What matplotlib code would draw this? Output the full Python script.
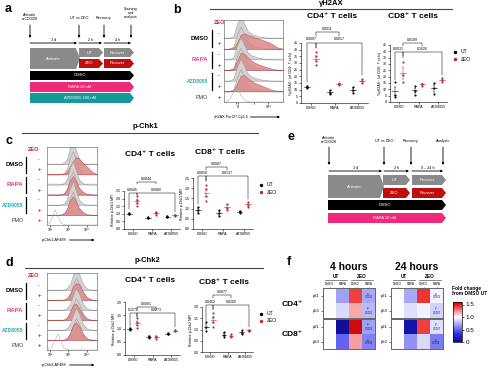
import numpy as np
import matplotlib
matplotlib.use('Agg')
import matplotlib.pyplot as plt
from matplotlib.patches import Polygon
from matplotlib.colors import LinearSegmentedColormap, Normalize

plt.rcParams['font.family'] = ['Liberation Sans', 'DejaVu Sans']

W, H = 490, 376

# ---------------- data ----------------
groups = ['DMSO', 'RAPA', 'AZD8055']

# dot plots: per group [DMSO, RAPA, AZD8055]
b_cd4_ut = [[13, 11, 12], [10, 7, 7.5], [12, 9.5, 7.5]]
b_cd4_zeo = [[38, 35, 31.5, 28.5], [15, 14, 13.5], [18, 16.5, 15]]
b_cd8_ut = [[15.9, 5.3, 4], [13, 9, 5.3], [15, 11, 6]]
b_cd8_zeo = [[31.7, 21, 15.9], [14.5, 14, 13], [19, 17.7, 16]]

c_cd4_ut = [[1.05, 1.0, 0.98], [0.8, 0.72, 0.7], [0.85, 0.8, 0.78]]
c_cd4_zeo = [[2.15, 1.9, 1.7, 1.5], [1.15, 1.05, 0.9], [0.95, 0.9, 0.85]]
c_cd8_ut = [[1.1, 0.95, 0.78], [0.92, 0.78, 0.65], [0.9, 0.85, 0.8]]
c_cd8_zeo = [[2.15, 1.98, 1.6, 1.35], [1.25, 1.05, 0.92], [1.32, 1.2, 1.1]]

d_cd4_ut = [[1.02, 0.98, 0.96], [0.72, 0.68, 0.65], [0.82, 0.78, 0.8]]
d_cd4_zeo = [[1.38, 1.25, 1.12, 1.02], [0.72, 0.68, 0.62], [0.95, 0.92, 0.9]]
d_cd8_ut = [[1.32, 1.1, 0.95], [0.9, 0.75, 0.68], [0.98, 0.85, 0.8]]
d_cd8_zeo = [[1.72, 1.55, 1.35, 1.12], [0.8, 0.7, 0.65], [1.0, 0.95, 0.92]]

# significance brackets: (x1, x2, y, left leg end, right leg end, p)
b_cd4_br = [(-0.2, 0.2, 45, 16, 41, '0.0007'), (0.2, 1.2, 53, 50, 50, '0.0011'),
            (0.2, 2.2, 45, 41, 21, '0.0017')]
b_cd8_br = [(-0.2, 0.2, 39.5, 17, 35, '0.0031'), (0.2, 1.2, 46.5, 44.5, 44.5, '0.0189'),
            (0.2, 2.2, 39.5, 36, 21, '0.1626')]
c_cd4_br = [(-0.2, 0.2, 2.37, 1.3, 2.25, '0.0045'), (0.2, 1.2, 3.09, 2.95, 2.95, '0.0044'),
            (0.2, 2.2, 2.37, 2.25, 1.1, '0.0060')]
c_cd8_br = [(-0.2, 0.2, 2.6, 1.25, 2.35, '0.0058'), (0.2, 1.2, 3.04, 2.9, 2.9, '0.0087'),
            (0.2, 2.2, 2.6, 2.35, 1.45, '0.0137')]
d_cd4_br = [(-0.2, 0.2, 1.58, 1.1, 1.45, '0.1572'), (0.2, 1.2, 1.81, 1.7, 1.7, '0.0081'),
            (0.2, 2.2, 1.58, 1.45, 1.05, '0.0273')]
d_cd8_br = [(-0.2, 0.2, 2.09, 1.4, 1.85, '0.0452'), (0.2, 1.2, 2.53, 2.4, 2.4, '0.0077'),
            (0.2, 2.2, 2.09, 1.9, 1.1, '0.0260')]

# histogram outlines (height in row units) read at these x fractions
hx = [0, .08, .16, .22, .28, .34, .40, .46, .52, .58, .64, .72, .80, .90, 1.0]
b_ut = [0, 0, .2, 1.3, 2.1, 1.4, .7, .4, .28, .17, .1, .04, .01, 0, 0]
b_zeo = [[0, 0, .07, .55, 1.3, 1.45, 1.3, 1.2, 1.05, .95, .85, .7, .5, .14, 0],
         [0, 0, .14, .85, 1.6, 1.55, 1.2, .9, .7, .55, .42, .28, .14, .03, 0],
         [0, 0, .11, .7, 1.45, 1.55, 1.25, 1.0, .8, .67, .53, .35, .17, .04, 0]]
b_fmo = [0, .14, .85, 1.4, .7, .2, .04, 0, 0, 0, 0, 0, 0, 0, 0]
c_ut = [0, 0, 0, 0, .03, .14, .55, 1.7, 2.3, 1.4, .5, .1, .01, 0, 0]
c_zeo = [[0, 0, 0, 0, .02, .07, .28, .75, 1.3, 1.7, 1.6, 1.1, .75, .28, 0],
         [0, 0, 0, 0, .03, .14, .55, 1.4, 1.85, 1.4, .7, .28, .07, 0, 0],
         [0, 0, 0, 0, .03, .17, .6, 1.45, 1.85, 1.3, .7, .28, .07, 0, 0]]
c_fmo = [0, .4, 1.5, .85, .2, .04, 0, 0, 0, 0, 0, 0, 0, 0, 0]
d_ut = [0, 0, 0, 0, 0, .04, .2, .6, 1.5, 2.2, 1.65, .6, .14, .01, 0]
d_zeo = [[0, 0, 0, 0, 0, .04, .2, .6, 1.3, 1.7, 1.6, .85, .28, .04, 0],
         [0, 0, 0, 0, 0, .05, .28, .85, 1.5, 1.65, 1.2, .5, .1, 0, 0],
         [0, 0, 0, 0, 0, .04, .2, .7, 1.45, 1.8, 1.4, .6, .14, .01, 0]]
d_fmo = [0, .2, .95, 1.6, .85, .2, .03, 0, 0, 0, 0, 0, 0, 0, 0]

# heatmaps (fold change from DMSO UT), rows p21/p53, cols UT DMSO/RAPA, ZEO DMSO/RAPA
f_cols = ['DMSO', 'RAPA', 'DMSO', 'RAPA']
f_rows = ['p21', 'p53']
f4_cd4 = [[1.0, 0.7, 1.4, 0.72], [1.0, 0.88, 1.18, 0.78]]
f4_cd8 = [[1.0, 0.06, 1.55, 0.7], [1.0, 0.5, 1.2, 0.6]]
f24_cd4 = [[1.0, 0.72, 1.42, 0.96], [1.0, 0.9, 0.96, 0.85]]
f24_cd8 = [[1.0, 0.1, 1.4, 0.9], [1.0, 0.65, 0.88, 0.58]]
f4_p = [['0.0002', '0.0001'], ['0.0003', '0.0001']]
f24_p = [['0.0001', '0.0007'], ['0.0007', '0.0004']]

RED = '#c0282d'
PINK = '#e0408a'
TEAL = '#2aaab5'

fig = plt.figure(figsize=(W / 100, H / 100), dpi=100)
ov = fig.add_axes([0, 0, 1, 1])
ov.set_xlim(0, W)
ov.set_ylim(H, 0)
ov.axis('off')


def px_axes(x, y, w, h):
    a = fig.add_axes([x / W, 1 - (y + h) / H, w / W, h / H])
    a.patch.set_alpha(0)
    return a


def chevron(x0, x1, y0, y1, color, label, tip=4, fs=3.0):
    pts = [(x0, y0), (x1 - tip, y0), (x1, (y0 + y1) / 2), (x1 - tip, y1), (x0, y1)]
    ov.add_patch(Polygon(pts, closed=True, fc=color, ec='none'))
    ov.text((x0 + x1 - tip) / 2, (y0 + y1) / 2, label, color='white', fontsize=fs,
            ha='center', va='center')


def arrow(x0, y0, x1, y1):
    ov.annotate('', xy=(x1, y1), xytext=(x0, y0),
                arrowprops=dict(arrowstyle='-|>', lw=0.6, color='k', mutation_scale=3,
                                shrinkA=0, shrinkB=0))


def timeline(events, arr_y0, arr_y1, spans, span_y, boxes):
    for x, lab, ty in events:
        ov.text(x, ty, lab, fontsize=2.7, ha='center', va='center', linespacing=1.0)
        arrow(x, arr_y0, x, arr_y1)
    for x0, x1, lab in spans:
        arrow(x0, span_y, x1, span_y)
        ov.text((x0 + x1) / 2, span_y - 3, lab, fontsize=2.7, ha='center', va='center')
    for b in boxes:
        chevron(*b)


# ---------------- panel a / e timelines ----------------
timeline([(30, 'Activate\nα-CD3/28', 17), (79, 'UT vs ZEO', 18), (104, 'Recovery', 18),
          (131, 'Staining\nand\nanalysis', 13)], 25, 38,
         [(30, 77, '3 d'), (79, 102, '2 h'), (104, 131, '4 h')], 43,
         [(30, 80, 48, 69, '#8a8a8a', 'Activate'),
          (79, 103, 48, 57, '#8a8a8a', 'UT'), (104, 134, 48, 57, '#8a8a8a', 'Recover'),
          (79, 103, 59, 68, '#c00d0d', 'ZEO'), (104, 134, 59, 68, '#c00d0d', 'Recover'),
          (30, 134, 71, 80, 'black', 'DMSO'), (30, 134, 82, 92, '#ee2a7b', 'RAPA 10 nM'),
          (30, 134, 93, 103, '#17999a', 'AZD8055 100 nM')])

timeline([(329, 'Activate\nα-CD3/28', 140), (384, 'UT vs ZEO', 141), (411, 'Recovery', 141),
          (443, 'Analysis', 141)], 147, 165,
         [(329, 382, '3 d'), (384, 409, '2 h'), (412, 443, '0 – 24 h')], 171,
         [(328, 384, 175, 198, '#8a8a8a', 'Activate'),
          (383, 410, 175, 185, '#8a8a8a', 'UT'), (412, 446, 175, 185, '#8a8a8a', 'Recover'),
          (383, 410, 188, 198, '#c00d0d', 'ZEO'), (412, 446, 188, 198, '#c00d0d', 'Recover'),
          (328, 446, 200, 210, 'black', 'DMSO'), (328, 446, 213, 223, '#ee2a7b', 'RAPA 10 nM')])

# ---------------- panel letters and section titles ----------------
for x, y, l in [(5, 9, 'a'), (173, 10, 'b'), (5, 141, 'c'), (5, 263, 'd'),
                (287, 137, 'e'), (287, 262, 'f')]:
    ov.text(x, y, l, fontsize=9, fontweight='bold', ha='left', va='center')

for tx, ty, lab, lx0, lx1, ly in [(331, 3.5, 'γH2AX', 210, 452, 8.5),
                                  (145, 126, 'p-Chk1', 22, 258, 133),
                                  (147, 260, 'p-Chk2', 25, 263, 268)]:
    ov.text(tx, ty, lab, fontsize=5.5, fontweight='bold', ha='center', va='center')
    ov.plot([lx0, lx1], [ly, ly], color='#444444', lw=0.8)


# ---------------- histograms ----------------
def hist_panel(box, ut, zeos, fmo, ticks, ticklabels, xlabel, dx):
    x, y, w, h = box
    ax = px_axes(*box)
    top = 7.7
    ax.set_xlim(0, 1)
    ax.set_ylim(0, top)
    xs = np.array(hx)
    for d in range(3):
        bu = 6 - 2 * d
        bz = 5 - 2 * d
        ax.fill_between(xs, bu, bu + np.array(ut), fc='#d2d2d2', ec='#9a9a9a', lw=0.35, zorder=2 + 2 * d)
        ax.fill_between(xs, bz, bz + np.array(ut), fc='#d2d2d2', ec='#9a9a9a', lw=0.35, zorder=3 + 2 * d)
        ax.fill_between(xs, bz, bz + np.array(zeos[d]), fc='#dc8888', ec='#b04848', lw=0.35,
                        alpha=0.85, zorder=3 + 2 * d)
    ax.plot(xs, np.array(fmo), color='#b0b0b0', lw=0.4, zorder=10)
    for i in range(1, 7):
        ax.axhline(i, color='#bdbdbd', lw=0.25, zorder=1)
    ax.set_yticks([])
    ax.set_xticks(ticks)
    ax.set_xticklabels(ticklabels, fontsize=2.6)
    ax.tick_params(axis='x', length=1.2, width=0.4, pad=0.8)
    for s in ax.spines.values():
        s.set_linewidth(0.4)
        s.set_color('#555555')

    def rowy(i):
        return y + h * (top - (6 - i) - 0.45) / top

    sdx, bdx, ldx, fs = dx
    ov.text(x - bdx + 2, y + 2.5, 'ZEO', color=RED, fontsize=fs * 0.95, fontweight='bold',
            ha='left', va='center')
    names = ['DMSO', 'RAPA', 'AZD8055']
    cols = ['black', PINK, TEAL]
    sizes = [fs, fs, fs * 0.85]
    for d in range(3):
        y0, y1 = rowy(2 * d), rowy(2 * d + 1)
        ov.text(x - sdx, y0, '-', fontsize=fs * 0.8, ha='center', va='center')
        ov.text(x - sdx, y1, '+', fontsize=fs, ha='center', va='center', color=RED, fontweight='bold')
        ov.plot([x - bdx, x - bdx], [y0 - 3, y1 + 3], color='black', lw=0.9)
        ov.text(x - ldx, (y0 + y1) / 2, names[d], fontsize=sizes[d], color=cols[d],
                fontweight='bold', ha='right', va='center')
    ov.text(x - ldx, rowy(6), 'FMO', fontsize=fs * 0.9, ha='right', va='center', color='#333333')
    ov.text(x - sdx, rowy(6), '+', fontsize=fs, ha='center', va='center', color=RED, fontweight='bold')
    lx, ly = xlabel
    ov.text(lx, y + h + 15, ly, fontsize=2.7, ha='left', va='center')
    arrow(x + w * 0.45, y + h + 15, x + w * 0.95, y + h + 15)
    return ax


hist_panel((224, 20, 59, 82), b_ut, b_zeo, b_fmo, [0.2, 0.24, 0.5, 0.75],
           ['', '0', '', '10⁴'], (214, 'γH2AX-PerCP-Cy5.5'), (5, 12, 16, 4.3))
hist_panel((47, 147, 50, 78), c_ut, c_zeo, c_fmo, [0.06, 0.42, 0.8],
           ['10²', '10³', '10⁴'], (42, 'p-Chk1-AF488'), (8, 21, 23.5, 4.3))
hist_panel((47, 273, 50, 77), d_ut, d_zeo, d_fmo, [0.06, 0.42, 0.8],
           ['10²', '10³', '10⁴'], (42, 'p-Chk2-AF488'), (8, 21, 23.5, 4.3))


# ---------------- dot plots ----------------
def dot_panel(box, ut, zeo, ymax, ystep, fmt, ylabel, brackets, legend=False):
    ax = px_axes(*box)
    for g in range(3):
        for vals, dxg, col, lab in ((ut[g], -0.2, 'black', 'UT'), (zeo[g], 0.2, RED, 'ZEO')):
            xg = g + dxg
            v = np.array(vals, dtype=float)
            ax.scatter(np.full(len(v), xg), v, s=2.4, color=col, lw=0, zorder=3,
                       label=lab if g == 0 else None)
            m = v.mean()
            se = v.std(ddof=1) / np.sqrt(len(v))
            ax.plot([xg - 0.14, xg + 0.14], [m, m], color=col, lw=0.4)
            ax.errorbar(xg, m, yerr=se, color=col, lw=0.35, capsize=0.8, capthick=0.35)
    ax.set_xlim(-0.45, 2.45)
    ax.set_ylim(0, ymax)
    yt = np.arange(0, ymax + ystep / 2, ystep)
    ax.set_yticks(yt)
    ax.set_yticklabels([fmt.format(t) for t in yt])
    ax.set_xticks([0, 1, 2])
    ax.set_xticklabels(groups)
    ax.spines['top'].set_visible(False)
    ax.spines['right'].set_visible(False)
    for s in ('left', 'bottom'):
        ax.spines[s].set_linewidth(0.4)
    ax.tick_params(labelsize=2.6, length=1.2, width=0.4, pad=0.8)
    ax.set_ylabel(ylabel, fontsize=2.5, labelpad=1)
    for x1, x2, yb, l1, l2, lab in brackets:
        ax.plot([x1, x1, x2, x2], [l1, yb, yb, l2], color='black', lw=0.35, clip_on=False)
        ax.text((x1 + x2) / 2, yb + ymax * 0.025, lab, fontsize=2.5, ha='center',
                va='bottom', clip_on=False)
    if legend:
        ax.legend(loc='upper left', bbox_to_anchor=(1.0, 0.98), frameon=False, fontsize=3.6,
                  handletextpad=0.1, markerscale=1.6, borderaxespad=0.2, labelspacing=0.5)
    return ax


dot_panel((301, 43, 67, 60), b_cd4_ut, b_cd4_zeo, 45, 5, '{:.0f}',
          '%γH2AX⁺ (of CD4⁺ T cells)', b_cd4_br)
dot_panel((390, 45, 57, 57), b_cd8_ut, b_cd8_zeo, 45, 5, '{:.0f}',
          '%γH2AX⁺ (of CD8⁺ T cells)', b_cd8_br, legend=True)
dot_panel((124, 191, 56, 38), c_cd4_ut, c_cd4_zeo, 2.5, 0.5, '{:.1f}',
          'Relative p-Chk1 MFI', c_cd4_br)
dot_panel((193, 178, 60, 51), c_cd8_ut, c_cd8_zeo, 2.5, 0.5, '{:.1f}',
          'Relative p-Chk1 MFI', c_cd8_br, legend=True)
dot_panel((125, 302, 55, 53), d_cd4_ut, d_cd4_zeo, 2.0, 0.5, '{:.1f}',
          'Relative p-Chk2 MFI', d_cd4_br)
dot_panel((202, 307, 51, 45), d_cd8_ut, d_cd8_zeo, 2.0, 0.5, '{:.1f}',
          'Relative p-Chk2 MFI', d_cd8_br, legend=True)

for x, y in [(332, 17), (150, 155), (150, 280)]:
    ov.text(x, y, 'CD4⁺ T cells', fontsize=6, fontweight='bold', ha='center', va='center')
for x, y in [(413, 16), (220, 153), (224, 282)]:
    ov.text(x, y, 'CD8⁺ T cells', fontsize=6, fontweight='bold', ha='center', va='center')

# ---------------- panel f heatmaps ----------------
cmap = LinearSegmentedColormap.from_list(
    'fc', [(0, '#0a0a8c'), (0.2, '#2b2bea'), (0.625, '#ffffff'), (0.9, '#ee2c2c'), (1.0, '#c40000')])
norm = Normalize(vmin=0, vmax=1.6)

im = None
for x0, title, blocks, pv in [(323, '4 hours', [f4_cd4, f4_cd8], f4_p),
                              (391, '24 hours', [f24_cd4, f24_cd8], f24_p)]:
    for k, (vals, y0) in enumerate(zip(blocks, [288, 319])):
        ax = px_axes(x0, y0, 52, 30)
        im = ax.imshow(np.array(vals), cmap=cmap, norm=norm, aspect='auto')
        ax.set_yticks([0, 1])
        ax.set_yticklabels(f_rows, fontsize=3)
        ax.tick_params(axis='y', length=1.5, width=0.4, pad=0.8)
        if k == 0:
            ax.xaxis.tick_top()
            ax.set_xticks(range(4))
            ax.set_xticklabels(f_cols, fontsize=2.2)
            ax.tick_params(axis='x', length=1.0, width=0.4, pad=0.5)
        else:
            ax.set_xticks([])
        for s in ax.spines.values():
            s.set_linewidth(0.7)
            s.set_color('#666666')
        for r in range(2):
            ax.text(3, r, 'p=\n' + pv[k][r], fontsize=1.9, ha='center', va='center',
                    color='#222255', linespacing=1.0)
    ov.text(x0 + 26, 267, title, fontsize=7.5, fontweight='bold', ha='center', va='center')
    for c0, lab in [(0, 'UT'), (2, 'ZEO')]:
        cx = x0 + 13 * (c0 + 1)
        ov.text(cx, 277, lab, fontsize=3.4, fontweight='bold', ha='center', va='center')
        ov.plot([cx - 11, cx + 11], [280, 280], color='#555555', lw=0.5)

ov.text(292, 304, 'CD4⁺', fontsize=6, fontweight='bold', ha='center', va='center')
ov.text(292, 334, 'CD8⁺', fontsize=6, fontweight='bold', ha='center', va='center')

cax = px_axes(453, 302, 9, 40)
cb = fig.colorbar(im, cax=cax, ticks=[0, 0.5, 1.0, 1.5])
cb.ax.set_yticklabels(['0', '0.5', '1.0', '1.5'], fontsize=4.5)
cb.ax.tick_params(length=1.5, width=0.4, pad=1)
cb.outline.set_linewidth(0.5)
ov.text(452, 291, 'Fold change\nfrom DMSO UT', fontsize=3.5, fontweight='bold',
        ha='left', va='center', linespacing=1.1)

fig.savefig('out.png', dpi=100)
